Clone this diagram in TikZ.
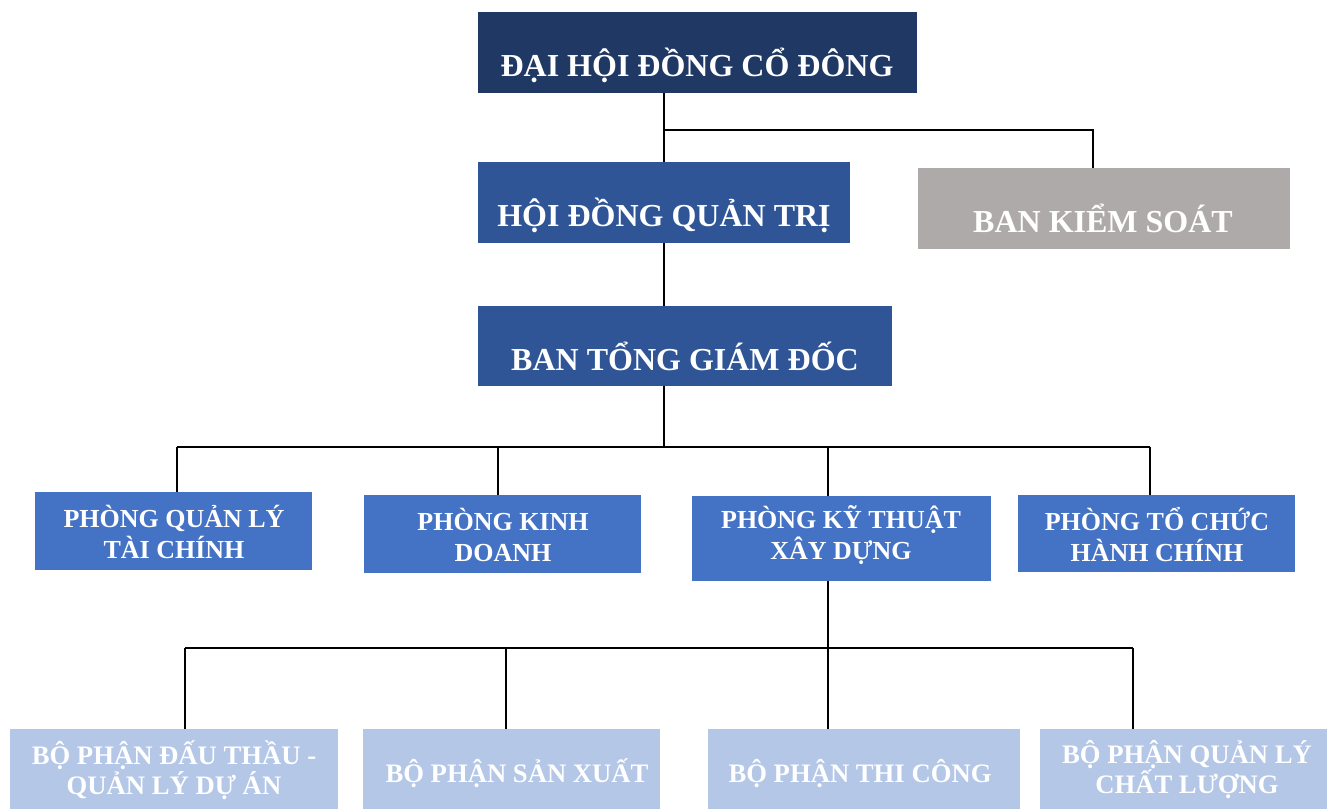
\documentclass[tikz,border=0pt]{standalone}
\usepackage{fontspec}
\setmainfont{Liberation Serif}
\definecolor{cNavy}{HTML}{203864}
\definecolor{cMid}{HTML}{2F5597}
\definecolor{cGray}{HTML}{AEAAAA}
\definecolor{cBlue}{HTML}{4472C4}
\definecolor{cLight}{HTML}{B4C7E7}
\tikzset{
  box/.style={draw=none, inner sep=0pt, outer sep=0pt, anchor=north west},
  txtbig/.style={text=white, font=\fontsize{24}{28}\selectfont\bfseries, inner sep=0pt, anchor=base},
  txtmid/.style={text=white, font=\fontsize{19.5}{23.2}\selectfont\bfseries, inner sep=0pt, align=center},
  txtsmall/.style={text=white, font=\fontsize{20}{22.5}\selectfont\bfseries, inner sep=0pt, align=center},
  conn/.style={draw=black, line width=1.5pt}
}
\begin{document}
\begin{tikzpicture}[x=0.75pt, y=-0.75pt]
\useasboundingbox (0,0) rectangle (1334,809);
% level boxes
\node[box, fill=cNavy, minimum width=329.25pt, minimum height=60.75pt] (dh) at (478,12) {};
\node[box, fill=cMid, minimum width=279pt, minimum height=60.75pt] (hd) at (478,162) {};
\node[box, fill=cGray, minimum width=279pt, minimum height=60.75pt] (bks) at (918,168) {};
\node[box, fill=cMid, minimum width=310.5pt, minimum height=60pt] (bt) at (478,306) {};
% phong
\node[box, fill=cBlue, minimum width=207.75pt, minimum height=58.5pt] (p1) at (35,492) {};
\node[box, fill=cBlue, minimum width=207.75pt, minimum height=58.5pt] (p2) at (364,495) {};
\node[box, fill=cBlue, minimum width=224.25pt, minimum height=63.75pt] (p3) at (692,496) {};
\node[box, fill=cBlue, minimum width=207.75pt, minimum height=57.75pt] (p4) at (1018,495) {};
% bo phan
\node[box, fill=cLight, minimum width=246pt, minimum height=60pt] (b1) at (10,729) {};
\node[box, fill=cLight, minimum width=222.75pt, minimum height=60pt] (b2) at (363,729) {};
\node[box, fill=cLight, minimum width=234pt, minimum height=60pt] (b3) at (708,729) {};
\node[box, fill=cLight, minimum width=215.25pt, minimum height=60pt] (b4) at (1040,729) {};
% texts
\node[txtbig] (dht) at (697,77) {ĐẠI HỘI ĐỒNG CỔ ĐÔNG};
\node[txtbig] (hdt) at (664,227) {HỘI ĐỒNG QUẢN TRỊ};
\node[txtbig] (bkst) at (1103,233) {BAN KIỂM SOÁT};
\node[txtbig] (btt) at (685,370) {BAN TỔNG GIÁM ĐỐC};
\node[txtmid] (p1t) at (174,532) {PHÒNG QUẢN LÝ\\TÀI CHÍNH};
\node[txtmid] (p2t) at (503,535) {PHÒNG KINH\\DOANH};
\node[txtmid] (p3t) at (841,535) {PHÒNG KỸ THUẬT\\XÂY DỰNG};
\node[txtmid] (p4t) at (1157,535) {PHÒNG TỔ CHỨC\\HÀNH CHÍNH};
\node[txtsmall] (b1t) at (174,770) {BỘ PHẬN ĐẤU THẦU -\\QUẢN LÝ DỰ ÁN};
\node[txtsmall, anchor=base] (b2t) at (517,782) {BỘ PHẬN SẢN XUẤT};
\node[txtsmall, anchor=base] (b3t) at (860,782) {BỘ PHẬN THI CÔNG};
\node[txtsmall] (b4t) at (1187,770) {BỘ PHẬN QUẢN LÝ\\CHẤT LƯỢNG};
% junction coordinates
\coordinate (j1) at (664,130);
\coordinate (j2) at (664,447);
\coordinate (j3) at (828,648);
% connectors
\draw[conn] (dh.south -| j1) -- (hd.north -| j1);
\draw[conn] (j1) -| (1093,168) coordinate (bksin) -- (bks.north -| bksin);
\draw[conn] (hd.south -| j1) -- (bt.north -| j1);
\draw[conn] (bt.south -| j2) -- (j2);
\draw[conn] (177,447) coordinate (l1) -- (1150,447) coordinate (l2);
\draw[conn] (l1) -- (p1.north -| l1);
\draw[conn] (498,447) coordinate (l3) -- (p2.north -| l3);
\draw[conn] (j3 |- l1) -- (p3.north -| j3);
\draw[conn] (l2) -- (p4.north -| l2);
\draw[conn] (p3.south -| j3) -- (j3);
\draw[conn] (185,648) coordinate (m1) -- (1133,648) coordinate (m2);
\draw[conn] (m1) -- (b1.north -| m1);
\draw[conn] (506,648) coordinate (m3) -- (b2.north -| m3);
\draw[conn] (j3) -- (b3.north -| j3);
\draw[conn] (m2) -- (b4.north -| m2);
\end{tikzpicture}
\end{document}
